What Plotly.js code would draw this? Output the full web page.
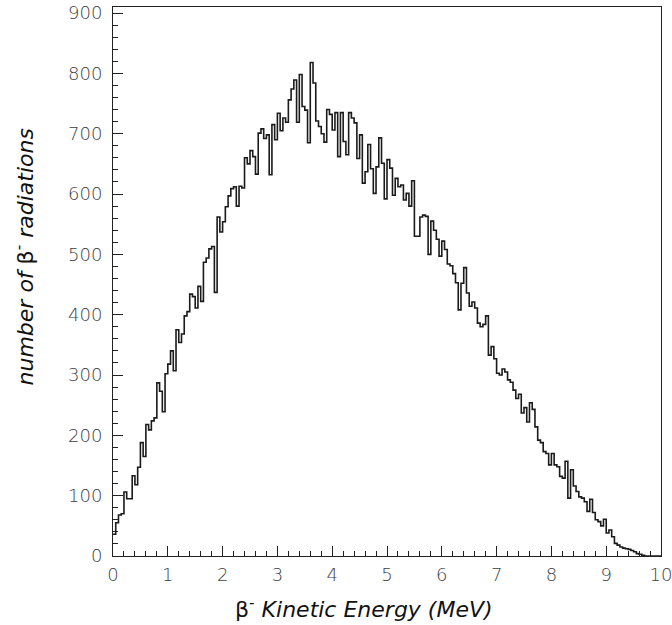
<!DOCTYPE html>
<html>
<head>
<meta charset="utf-8">
<script src="https://cdn.plot.ly/plotly-3.0.1.min.js"></script>
<style>
  html, body { margin: 0; padding: 0; background: #ffffff; }
  #chart { width: 672px; height: 625px; }
</style>
</head>
<body>
<div id="chart"></div>
<script>
// Histogram of beta- kinetic energy: 200 bins of 0.05 MeV from 0 to 10 MeV
const binStart = 0;
const binWidth = 0.05;
const counts = [
  36, 55, 68, 70, 106, 95, 95, 133, 118, 147,
  188, 165, 218, 209, 224, 229, 287, 273, 239, 302,
  318, 340, 307, 375, 354, 368, 398, 405, 434, 430,
  411, 447, 422, 487, 494, 509, 513, 437, 562, 537,
  554, 579, 597, 609, 612, 580, 613, 610, 660, 650,
  672, 662, 633, 701, 708, 692, 698, 632, 715, 690,
  734, 705, 726, 719, 756, 774, 789, 719, 798, 745,
  739, 685, 818, 784, 721, 712, 700, 686, 740, 732,
  706, 735, 662, 735, 687, 665, 735, 726, 718, 659,
  698, 618, 637, 682, 642, 601, 645, 693, 651, 592,
  657, 643, 598, 626, 612, 615, 590, 601, 580, 622,
  530, 530, 562, 565, 563, 500, 555, 540, 525, 497,
  522, 508, 484, 481, 468, 453, 408, 452, 478, 436,
  414, 421, 411, 386, 380, 384, 398, 333, 347, 327,
  303, 300, 310, 305, 292, 288, 275, 261, 268, 237,
  246, 222, 254, 243, 214, 192, 188, 173, 170, 151,
  170, 151, 148, 132, 129, 157, 96, 143, 116, 107,
  98, 96, 90, 74, 94, 72, 60, 57, 50, 61,
  38, 43, 32, 21, 18, 15, 13, 12, 11, 9,
  7, 4, 3, 1, 0, 0, 0, 0, 0, 0
];
const xTickVals = [0, 1, 2, 3, 4, 5, 6, 7, 8, 9, 10];
const yTickVals = [0, 100, 200, 300, 400, 500, 600, 700, 800, 900];
const xTitle = 'β<sup>-</sup> <i>Kinetic Energy (MeV)</i>';
const yTitle = '<i>number of </i>β<sup>-</sup><i> radiations</i>';

// bin edges for a step ("hv") outline
const edges = counts.map((_, i) => +(binStart + i * binWidth).toFixed(4));
const stepX = edges.concat([+(binStart + counts.length * binWidth).toFixed(4)]);
const stepY = counts.concat([counts[counts.length - 1]]);

const tickFont = { family: 'DejaVu Sans, Verdana, sans-serif', size: 18, color: '#404040', weight: 300 };
const titleFont = { family: 'DejaVu Sans, Verdana, sans-serif', size: 22, color: '#111111' };

const trace = {
  type: 'scatter',
  mode: 'lines',
  x: stepX,
  y: stepY,
  line: { shape: 'hv', color: '#1a1a1a', width: 1.6 },
  hoverinfo: 'x+y',
  showlegend: false
};

const layout = {
  width: 672,
  height: 625,
  margin: { l: 113, r: 11, t: 7, b: 69, pad: 0 },
  paper_bgcolor: '#ffffff',
  plot_bgcolor: '#ffffff',
  xaxis: {
    range: [0, 10],
    tickvals: xTickVals,
    ticktext: xTickVals.map(String),
    ticks: 'inside',
    ticklen: 10,
    tickwidth: 1,
    tickcolor: '#222222',
    minor: { ticks: 'inside', ticklen: 5, dtick: 0.2, tick0: 0, tickwidth: 1, tickcolor: '#222222', showgrid: false },
    showline: true,
    linecolor: '#222222',
    linewidth: 1,
    mirror: true,
    showgrid: false,
    zeroline: false,
    tickfont: tickFont,
    ticklabelstandoff: 2,
    ticklabeloverflow: 'allow'
  },
  yaxis: {
    range: [0, 910],
    tickvals: yTickVals,
    ticktext: yTickVals.map(String),
    ticks: 'inside',
    ticklen: 10,
    tickwidth: 1,
    tickcolor: '#222222',
    minor: { ticks: 'inside', ticklen: 5, dtick: 20, tick0: 0, tickwidth: 1, tickcolor: '#222222', showgrid: false },
    showline: true,
    linecolor: '#222222',
    linewidth: 1,
    mirror: true,
    showgrid: false,
    zeroline: false,
    tickfont: tickFont,
    ticklabelstandoff: 6,
    ticklabeloverflow: 'allow'
  },
  annotations: [
    {
      text: xTitle, xref: 'paper', yref: 'paper',
      x: 0.458, y: -0.094, xanchor: 'center', yanchor: 'middle',
      showarrow: false, font: titleFont
    },
    {
      text: yTitle, xref: 'paper', yref: 'paper',
      x: -0.163, y: 0.545, xanchor: 'center', yanchor: 'middle',
      textangle: -90, showarrow: false, font: titleFont
    }
  ]
};

Plotly.newPlot('chart', [trace], layout, { displayModeBar: false, staticPlot: true });
</script>
</body>
</html>
